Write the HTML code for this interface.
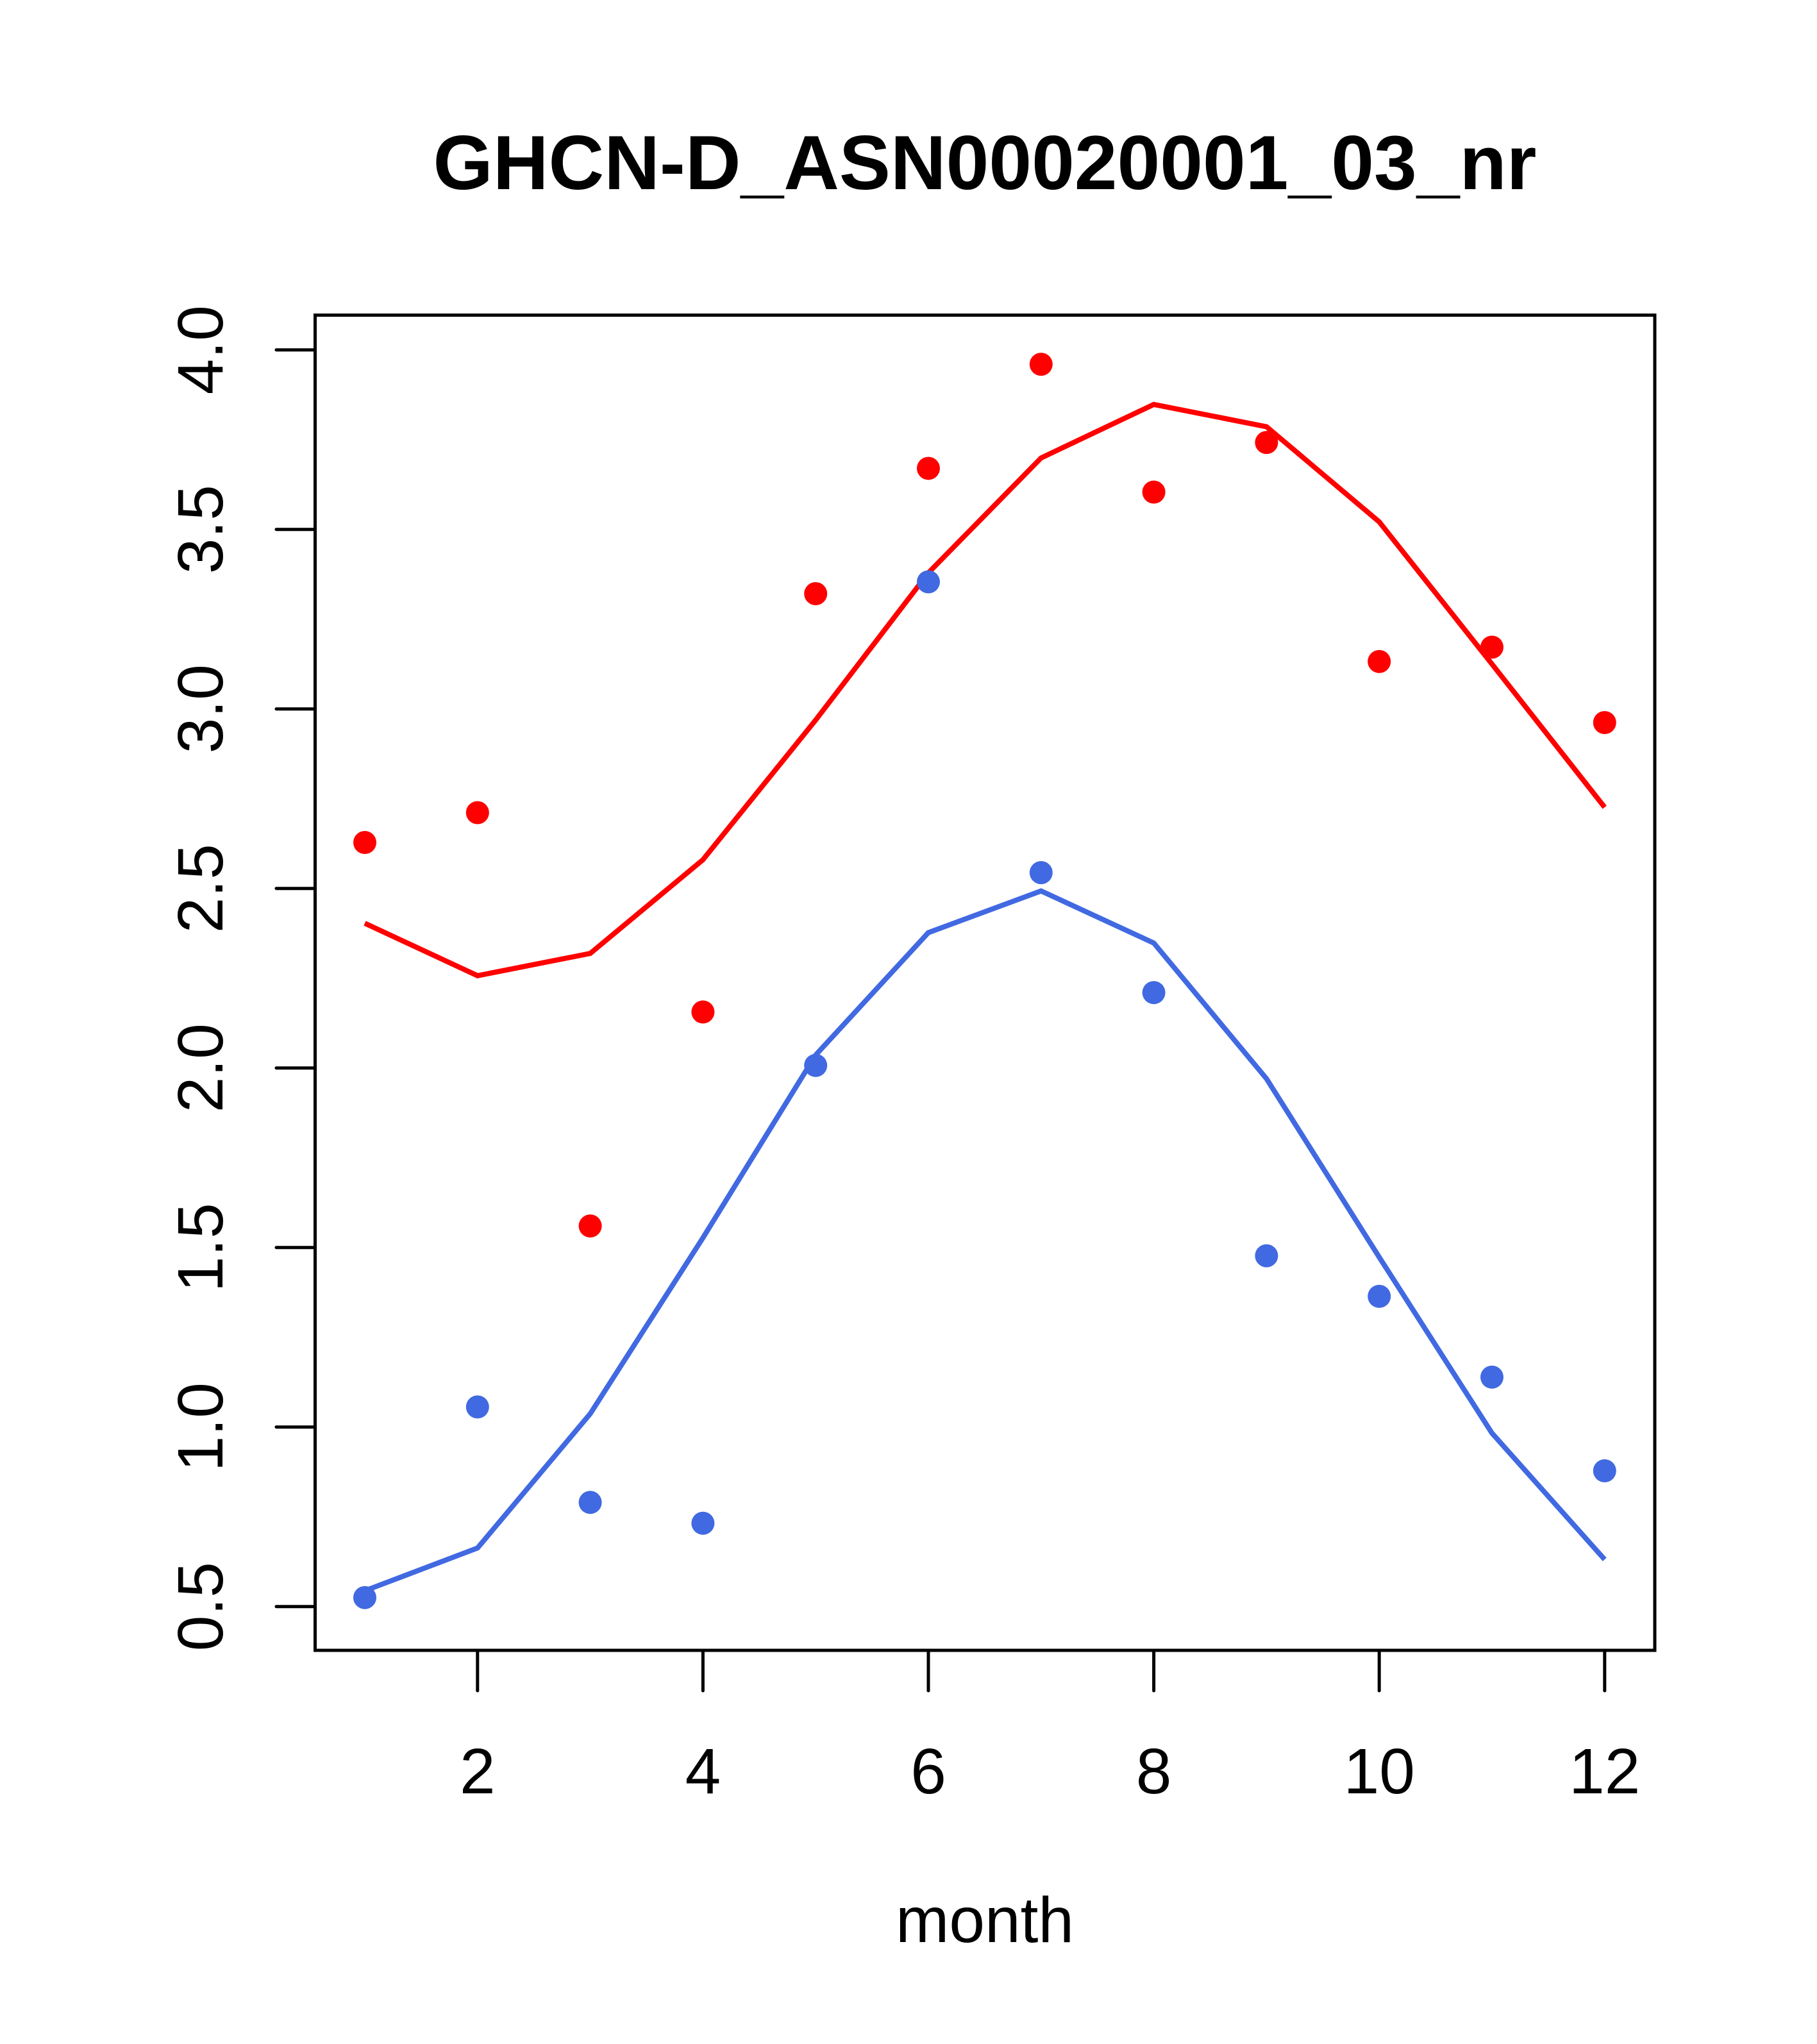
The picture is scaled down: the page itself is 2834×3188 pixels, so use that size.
<!DOCTYPE html>
<html><head><meta charset="utf-8"><style>
html,body{margin:0;padding:0;background:#fff;}
svg{display:block;}
text{font-family:"Liberation Sans",sans-serif;fill:#000;}
</style></head><body>
<svg id="chart" width="2834" height="3188" viewBox="0 0 2834 3188" xmlns="http://www.w3.org/2000/svg">
<rect width="2834" height="3188" fill="#fff"/>
<text x="1536" y="295" font-size="120" font-weight="bold" text-anchor="middle">GHCN-D_ASN00020001_03_nr</text>
<text x="1536" y="3029" font-size="100" text-anchor="middle">month</text>
<g id="marks"></g>
<rect x="491.5" y="491.5" width="2089.5" height="2082.5" fill="none" stroke="#000" stroke-width="5"/>
</svg>
<script>
const months = [1,2,3,4,5,6,7,8,9,10,11,12];
const redPoints = [2.628,2.711,1.560,2.156,3.321,3.670,3.960,3.604,3.742,3.132,3.172,2.962];
const redLine = [2.403,2.257,2.319,2.580,2.969,3.379,3.699,3.848,3.786,3.521,3.125,2.726];
const bluePoints = [0.525,1.056,0.790,0.732,2.007,3.354,2.544,2.210,1.477,1.364,1.139,0.878];
const blueLine = [0.544,0.663,1.037,1.527,2.036,2.377,2.493,2.348,1.970,1.473,0.983,0.631];
const xTicks = [2,4,6,8,10,12];
const xTickLabels = ["2","4","6","8","10","12"];
const yTicks = [0.5,1.0,1.5,2.0,2.5,3.0,3.5,4.0];
const yTickLabels = ["0.5","1.0","1.5","2.0","2.5","3.0","3.5","4.0"];

const NS = "http://www.w3.org/2000/svg";
function xs(m){ return 569 + (m-1)*175.8; }
function ys(v){ return 2505.7 - (v-0.5)*560; }
const g = document.getElementById('marks');
function mk(tag, attrs){ const e=document.createElementNS(NS,tag); for(const k in attrs) e.setAttribute(k,attrs[k]); g.appendChild(e); return e; }

xTicks.forEach((t,i)=>{
  const l = mk('line',{x1:xs(t),x2:xs(t),y1:2574,y2:2637,stroke:'#000','stroke-width':5,'stroke-linecap':'round'});
  
  
  const tx = mk('text',{x:xs(t),y:2797,'font-size':100,'text-anchor':'middle'});
  tx.textContent = xTickLabels[i];
  
  
});
yTicks.forEach((t,i)=>{
  const l = mk('line',{x1:431,x2:491.5,y1:ys(t),y2:ys(t),stroke:'#000','stroke-width':5,'stroke-linecap':'round'});
  
  
  const tx = mk('text',{x:0,y:0,'font-size':100,'text-anchor':'middle',transform:`translate(347,${ys(t)}) rotate(-90)`});
  tx.textContent = yTickLabels[i];
  
  
});
function series(line, pts, color, name){
  const p = mk('polyline',{points: months.map((m,i)=>xs(m)+','+ys(line[i])).join(' '), fill:'none', stroke:color, 'stroke-width':8});
  
  
  months.forEach((m,i)=>{
    const c = mk('circle',{cx:xs(m),cy:ys(pts[i]),r:18,fill:color});
    
    
  });
}
series(redLine, redPoints, '#ff0000', 'red-series');
series(blueLine, bluePoints, '#4169e1', 'blue-series');
</script>
</body></html>
